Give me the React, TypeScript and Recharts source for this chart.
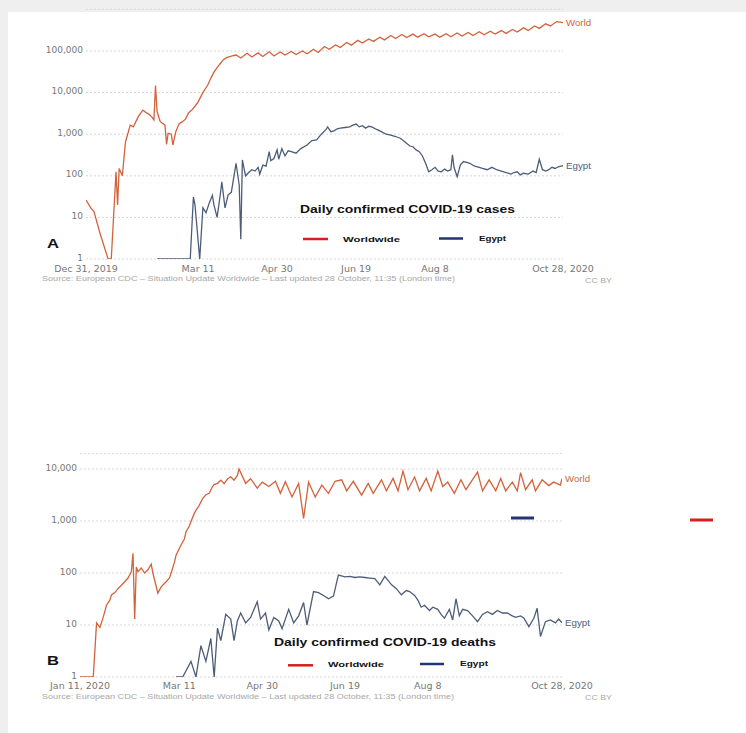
import React from 'react';
import { LineChart, Line, XAxis, YAxis, CartesianGrid } from 'recharts';

type P = [number, number];

// ---- Axis ticks ----
const casesTickDays = [0, 71, 121, 171, 221, 302];
const casesTickLabels = ['Dec 31, 2019', 'Mar 11', 'Apr 30', 'Jun 19', 'Aug 8', 'Oct 28, 2020'];
const deathsTickDays = [0, 60, 110, 160, 210, 291];
const deathsTickLabels = ['Jan 11, 2020', 'Mar 11', 'Apr 30', 'Jun 19', 'Aug 8', 'Oct 28, 2020'];
const casesYTicks = [1, 10, 100, 1000, 10000, 100000];
const deathsYTicks = [1, 10, 100, 1000, 10000];

// ---- Daily confirmed cases (day 0 = Dec 31, 2019) ----
const worldCases: P[] = [
  [0, 26], [3, 17], [5, 14], [9, 4], [14, 1], [16, 1], [19, 125], [20, 20], [21, 150], [23, 100],
  [25, 650], [28, 1650], [30, 1500], [33, 2600], [36, 3800], [38, 3300], [40, 3000], [42, 2500],
  [43, 2200], [44, 14700], [45, 3500], [47, 2000], [50, 1650], [51, 570], [52, 1050], [54, 1000],
  [55, 550], [57, 1200], [59, 1800], [61, 2000], [63, 2300], [65, 3300], [67, 3800], [69, 4700],
  [71, 6000], [74, 10000], [77, 15000], [79, 22000], [81, 31000], [83, 40000], [85, 50000],
  [87, 62000], [89, 69000], [92, 75000], [95, 80000], [98, 68000], [102, 88000], [105, 72000],
  [109, 90000], [112, 74000], [116, 96000], [119, 76000], [123, 95000], [126, 80000], [130, 97000],
  [133, 82000], [137, 100000], [140, 86000], [144, 110000], [147, 92000], [151, 128000], [154, 110000],
  [158, 140000], [161, 122000], [165, 160000], [168, 138000], [172, 180000], [175, 155000],
  [179, 195000], [182, 170000], [186, 215000], [189, 185000], [193, 235000], [196, 200000],
  [200, 250000], [203, 210000], [207, 255000], [210, 215000], [214, 260000], [217, 220000],
  [221, 255000], [224, 215000], [228, 260000], [231, 220000], [235, 270000], [238, 228000],
  [242, 280000], [245, 235000], [249, 290000], [252, 245000], [256, 300000], [259, 255000],
  [263, 310000], [266, 265000], [270, 330000], [273, 285000], [277, 360000], [280, 310000],
  [284, 400000], [287, 350000], [291, 450000], [294, 400000], [298, 510000], [302, 480000],
];

const egyptCases: P[] = [
  [45, 1], [66, 1], [68, 31], [69, 20], [72, 1], [74, 17], [76, 13], [78, 22], [80, 34], [81, 20],
  [83, 10], [85, 35], [86, 72], [88, 17], [90, 35], [92, 40], [95, 200], [97, 60], [98, 3], [99, 240],
  [101, 100], [103, 120], [105, 140], [107, 130], [109, 160], [110, 110], [112, 180], [114, 170],
  [116, 380], [117, 230], [119, 260], [121, 420], [122, 250], [124, 450], [126, 300], [128, 400],
  [130, 380], [133, 350], [136, 450], [140, 550], [143, 700], [146, 730], [149, 1000], [152, 1300],
  [153, 1500], [155, 1150], [157, 1200], [159, 1350], [161, 1400], [164, 1450], [167, 1500],
  [169, 1650], [171, 1750], [173, 1500], [175, 1600], [177, 1400], [179, 1550], [181, 1500],
  [184, 1300], [187, 1150], [190, 1000], [193, 950], [196, 880], [199, 800], [202, 650], [205, 520],
  [207, 500], [209, 420], [211, 380], [213, 300], [215, 200], [217, 125], [219, 140], [221, 160],
  [223, 130], [225, 125], [227, 145], [229, 130], [231, 140], [232, 320], [233, 160], [235, 95],
  [237, 180], [239, 220], [241, 210], [243, 200], [246, 170], [249, 160], [251, 150], [254, 140],
  [257, 160], [260, 140], [263, 130], [266, 120], [269, 110], [271, 120], [273, 125], [275, 105],
  [277, 115], [280, 110], [283, 130], [285, 120], [287, 250], [289, 140], [291, 130], [293, 140],
  [295, 160], [297, 150], [299, 165], [302, 175],
];

// ---- Daily confirmed deaths (day 0 = Jan 11, 2020) ----
const worldDeaths: P[] = [
  [0, 1], [8, 1], [10, 11], [12, 9], [14, 14], [16, 24], [18, 30], [19, 38], [21, 42], [23, 50],
  [25, 58], [27, 68], [29, 80], [31, 106], [32, 240], [33, 13], [34, 130], [35, 106], [37, 125],
  [39, 100], [41, 115], [43, 148], [44, 100], [47, 41], [49, 54], [52, 68], [54, 80], [55, 100],
  [57, 160], [58, 220], [61, 345], [63, 450], [64, 620], [66, 800], [67, 980], [69, 1400], [70, 1600],
  [72, 2000], [74, 2700], [76, 3200], [78, 3400], [80, 4600], [81, 5000], [83, 5300], [85, 6100],
  [87, 5200], [89, 6400], [91, 7100], [93, 6100], [95, 7500], [96, 10000], [100, 5300], [103, 6500],
  [107, 4300], [110, 5600], [114, 4600], [118, 5800], [121, 3400], [124, 5700], [128, 2900],
  [132, 5300], [135, 1120], [138, 5600], [142, 2900], [146, 4900], [150, 3400], [154, 5800],
  [158, 6200], [161, 3800], [165, 5800], [170, 3150], [174, 5300], [177, 3400], [182, 6200],
  [185, 3800], [189, 6600], [192, 3800], [195, 9100], [198, 4000], [202, 7000], [205, 3800],
  [209, 6600], [212, 3800], [216, 9100], [219, 4600], [222, 5600], [226, 3400], [230, 6200],
  [233, 4000], [236, 5600], [240, 8700], [243, 3800], [247, 6200], [251, 3800], [254, 6600],
  [257, 3800], [261, 5600], [264, 3800], [266, 8500], [269, 4000], [273, 6200], [275, 3800],
  [279, 6200], [283, 4800], [286, 5600], [290, 4900], [291, 6500],
];

const egyptDeaths: P[] = [
  [58, 1], [62, 1], [67, 2], [70, 1], [73, 4], [76, 2], [79, 5.5], [81, 1], [83, 8.7], [85, 5],
  [88, 16], [91, 13], [93, 5], [95, 12], [97, 17], [100, 11], [103, 14], [107, 28], [109, 13],
  [112, 17], [114, 8], [117, 14], [120, 12], [122, 8.5], [126, 20], [129, 11], [132, 15], [135, 27],
  [137, 10], [141, 44], [144, 42], [147, 37], [150, 32], [153, 36], [156, 91], [160, 84], [163, 86],
  [166, 82], [169, 84], [172, 82], [175, 80], [178, 78], [181, 59], [184, 86], [188, 60], [191, 50],
  [194, 38], [197, 46], [199, 44], [202, 37], [204, 30], [206, 22], [208, 24], [211, 19], [213, 22],
  [216, 20], [218, 16], [220, 13.5], [223, 20], [225, 12.5], [227, 32], [229, 15], [231, 20],
  [234, 19], [237, 15], [240, 11.6], [243, 16], [246, 18], [249, 16], [252, 19], [255, 17],
  [258, 17], [261, 15], [263, 14], [266, 15], [268, 13.5], [271, 9.3], [274, 13.5], [276, 21],
  [278, 6], [281, 11.6], [284, 12.5], [287, 11], [289, 13], [291, 11],
];

const WORLD_COLOR = '#d2623c';
const EGYPT_COLOR = '#4d5d78';
const TICK_STYLE = { fontSize: 9.5, fill: '#777', fontFamily: 'DejaVu Sans' };

const toRows = (s: P[]) => s.map(([d, v]) => ({ d, v }));
const fmtNum = (v: number) => v.toLocaleString('en-US');

function endLabel(text: string, color: string, lastIndex: number) {
  return (props: any) => {
    const { x, y, index } = props;
    if (index !== lastIndex) return <g />;
    return (
      <text
        x={x + 3}
        y={y + 3}
        fill={color}
        fontSize={8.5}
        fontFamily="Liberation Sans"
        textLength={25}
        lengthAdjust="spacingAndGlyphs"
      >
        {text}
      </text>
    );
  };
}

const YTick = (props: any) => {
  const { x, y, payload } = props;
  return (
    <text
      x={x}
      y={y - 1.5}
      textAnchor="end"
      dominantBaseline="central"
      fontSize={9}
      fill="#777"
      fontFamily="DejaVu Sans"
    >
      {fmtNum(payload.value)}
    </text>
  );
};

type PanelProps = {
  top: number;
  height: number;
  marginTop: number;
  marginBottom: number;
  marginRight: number;
  yWidth: number;
  xMax: number;
  yMax: number;
  xTicks: number[];
  xLabels: string[];
  yTicks: number[];
  world: P[];
  egypt: P[];
  tickMargin: number;
};

function Panel(p: PanelProps) {
  return (
    <div style={{ position: 'absolute', left: 0, top: p.top }}>
      <LineChart
        width={600}
        height={p.height}
        margin={{ top: p.marginTop, right: p.marginRight, bottom: p.marginBottom, left: 0 }}
      >
        <CartesianGrid vertical={false} stroke="#d8d8d8" strokeDasharray="2 2" />
        <XAxis
          type="number"
          dataKey="d"
          domain={[0, p.xMax]}
          ticks={p.xTicks}
          interval={0}
          tickFormatter={(v: number) => p.xLabels[p.xTicks.indexOf(v)] ?? ''}
          axisLine={false}
          tickLine={false}
          tickSize={0}
          tickMargin={p.tickMargin}
          height={30}
          tick={TICK_STYLE}
          allowDataOverflow
        />
        <YAxis
          type="number"
          scale="log"
          domain={[1, p.yMax]}
          ticks={p.yTicks}
          interval={0}
          axisLine={false}
          tickLine={false}
          tickSize={0}
          tickMargin={3}
          width={p.yWidth}
          tick={<YTick />}
          allowDataOverflow
        />
        <Line
          data={toRows(p.world)}
          dataKey="v"
          type="linear"
          stroke={WORLD_COLOR}
          strokeWidth={1.3}
          dot={false}
          isAnimationActive={false}
          label={endLabel('World', WORLD_COLOR, p.world.length - 1)}
        />
        <Line
          data={toRows(p.egypt)}
          dataKey="v"
          type="linear"
          stroke={EGYPT_COLOR}
          strokeWidth={1.3}
          dot={false}
          isAnimationActive={false}
          label={endLabel('Egypt', EGYPT_COLOR, p.egypt.length - 1)}
        />
      </LineChart>
    </div>
  );
}

const T = (props: any) => (
  <text lengthAdjust="spacingAndGlyphs" fontFamily="Liberation Sans" {...props} />
);

export default function App() {
  return (
    <div
      style={{
        position: 'absolute',
        left: 0,
        top: 0,
        width: 746,
        height: 733,
        background: '#efefef',
        overflow: 'hidden',
      }}
    >
      <div style={{ position: 'absolute', left: 8, top: 12, width: 738, height: 721, background: '#ffffff' }} />
      <Panel
        top={0}
        height={300}
        marginTop={9.4}
        marginBottom={11}
        marginRight={37}
        yWidth={86}
        xMax={302}
        yMax={1000000}
        xTicks={casesTickDays}
        xLabels={casesTickLabels}
        yTicks={casesYTicks}
        world={worldCases}
        egypt={egyptCases}
        tickMargin={6}
      />
      <Panel
        top={440}
        height={280}
        marginTop={13.35}
        marginBottom={13}
        marginRight={38}
        yWidth={80}
        xMax={291}
        yMax={20000}
        xTicks={deathsTickDays}
        xLabels={deathsTickLabels}
        yTicks={deathsYTicks}
        world={worldDeaths}
        egypt={egyptDeaths}
        tickMargin={5}
      />
      <svg
        width={746}
        height={733}
        style={{ position: 'absolute', left: 0, top: 0, pointerEvents: 'none' }}
      >
        {/* Panel A annotations */}
        <T x={47} y={248} fontSize={13} fontWeight="bold" fill="#111" textLength={12}>A</T>
        <T x={300} y={213} fontSize={11} fontWeight="bold" fill="#111" textLength={215}>
          Daily confirmed COVID-19 cases
        </T>
        <line x1={303} x2={328} y1={239} y2={239} stroke="#d42020" strokeWidth={2.5} />
        <T x={343} y={242} fontSize={8} fontWeight="bold" fill="#111" textLength={57}>Worldwide</T>
        <line x1={439} x2={463} y1={238.5} y2={238.5} stroke="#23346e" strokeWidth={2.5} />
        <T x={479} y={241} fontSize={8} fontWeight="bold" fill="#111" textLength={27}>Egypt</T>
        <T x={42} y={281} fontSize={7} fill="#a8a8a8" textLength={413}>
          Source: European CDC – Situation Update Worldwide – Last updated 28 October, 11:35 (London time)
        </T>
        <T x={585} y={283} fontSize={7} fill="#a8a8a8" textLength={27}>CC BY</T>

        {/* Panel B annotations */}
        <T x={47} y={665} fontSize={12} fontWeight="bold" fill="#111" textLength={12}>B</T>
        <T x={274} y={646} fontSize={11} fontWeight="bold" fill="#111" textLength={222}>
          Daily confirmed COVID-19 deaths
        </T>
        <line x1={288} x2={313} y1={665.3} y2={665.3} stroke="#d42020" strokeWidth={2.5} />
        <T x={328} y={667} fontSize={8} fontWeight="bold" fill="#111" textLength={56}>Worldwide</T>
        <line x1={420} x2={444} y1={664} y2={664} stroke="#23346e" strokeWidth={2.5} />
        <T x={460} y={666} fontSize={8} fontWeight="bold" fill="#111" textLength={28}>Egypt</T>
        <T x={42} y={699} fontSize={7} fill="#a8a8a8" textLength={412}>
          Source: European CDC – Situation Update Worldwide – Last updated 28 October, 11:35 (London time)
        </T>
        <T x={585} y={700} fontSize={7} fill="#a8a8a8" textLength={27}>CC BY</T>

        {/* stray legend swatches present in the source image */}
        <rect x={511} y={516.5} width={23} height={3} fill="#23346e" />
        <rect x={690} y={518.5} width={23} height={3} fill="#d42020" />
      </svg>
    </div>
  );
}
